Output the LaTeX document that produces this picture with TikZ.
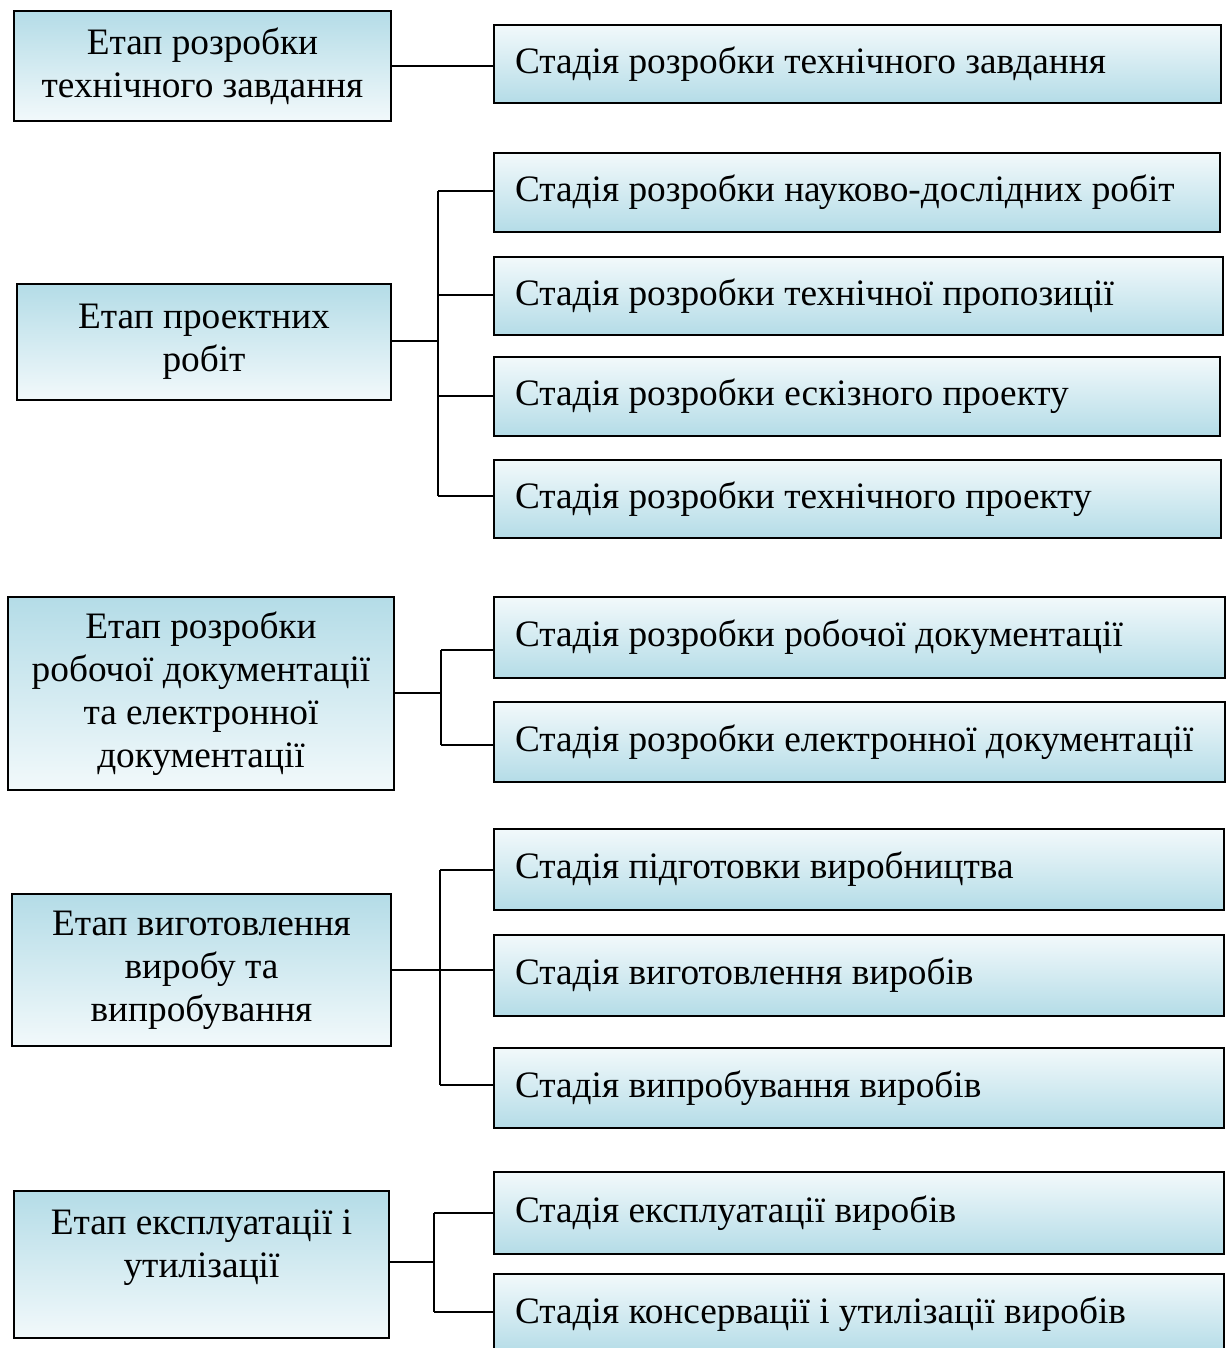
\documentclass[tikz,border=0pt]{standalone}
\usepackage{fontspec}
\setmainfont{Liberation Serif}
\definecolor{bdark}{RGB}{180,220,231}
\definecolor{blight}{RGB}{242,249,251}
\newcommand\rtext[1]{\raisebox{3pt}{\spaceskip=0pt\xspaceskip=0pt #1}}
\tikzset{
  lbox/.style={draw=black, line width=2pt, top color=bdark, bottom color=blight,
    align=center, inner sep=0pt, font=\fontsize{37.3}{43}\selectfont},
  rbox/.style={draw=black, line width=2pt, top color=blight, bottom color=bdark,
    anchor=west, align=left, inner xsep=21pt, inner ysep=0pt, minimum height=80pt,
    font=\fontsize{37.3}{43}\selectfont},
  conn/.style={draw=black, line width=1.5pt},
  ltext/.style={align=center, inner sep=0pt, font=\fontsize{37.3}{43}\selectfont}
}
\begin{document}
\begin{tikzpicture}[x=1pt,y=-1pt]
\clip (0,0) rectangle (1230,1348);
\fill[white] (0,0) rectangle (1230,1348);
% left boxes
\node[lbox, minimum width=377, minimum height=110] (L1) at (202.5,66) {Етап розробки\\технічного завдання};
\node[lbox, minimum width=374, minimum height=116] (L2) at (204,342) {Етап проектних\\робіт};
\node[lbox, minimum width=386, minimum height=193] (L3) at (201,693.5) {Етап розробки\\робочої документації\\та електронної\\документації};
\node[lbox, minimum width=379, minimum height=152] (L4) at (201.5,970) {Етап виготовлення\\виробу та\\випробування};
\node[lbox, minimum width=375, minimum height=147] (L5) at (201.5,1264.5) {};
\node[ltext] (L5t) at (201.5,1248) {Етап експлуатації і\\утилізації};
% right boxes
\node[rbox, minimum width=727, minimum height=78, text width=685] (R1) at (493,64) {\rtext{Стадія розробки технічного завдання}};
\node[rbox, minimum width=726, minimum height=79, text width=684] (R2) at (493,192.5) {\rtext{Стадія розробки науково-дослідних робіт}};
\node[rbox, minimum width=729, minimum height=78, text width=687] (R3) at (493,296) {\rtext{Стадія розробки технічної пропозиції}};
\node[rbox, minimum width=726, minimum height=79, text width=684] (R4) at (493,396.5) {\rtext{Стадія розробки ескізного проекту}};
\node[rbox, minimum width=727, minimum height=78, text width=685] (R5) at (493,499) {\rtext{Стадія розробки технічного проекту}};
\node[rbox, minimum width=731, minimum height=81, text width=689] (R6) at (493,637.5) {\rtext{Стадія розробки робочої документації}};
\node[rbox, minimum width=731, minimum height=80, text width=689] (R7) at (493,742) {\rtext{Стадія розробки електронної документації}};
\node[rbox, minimum width=730, minimum height=81, text width=688] (R8) at (493,869.5) {\rtext{Стадія підготовки виробництва}};
\node[rbox, minimum width=730, minimum height=81, text width=688] (R9) at (493,975.5) {\rtext{Стадія виготовлення виробів}};
\node[rbox, minimum width=730, minimum height=80, text width=688] (R10) at (493,1088) {\rtext{Стадія випробування виробів}};
\node[rbox, minimum width=730, minimum height=82, text width=688] (R11) at (493,1213) {\rtext{Стадія експлуатації виробів}};
\node[rbox, minimum width=730, minimum height=80, text width=688] (R12) at (493,1314) {\rtext{Стадія консервації і утилізації виробів}};
% connectors
\draw[conn] (L1.east) -- (L1.east -| R1.west);
% group 2
\coordinate (j2) at (438,341);
\coordinate (j2a) at (438,191);
\coordinate (j2b) at (438,295);
\coordinate (j2c) at (438,396);
\coordinate (j2d) at (438,496);
\draw[conn] (L2.east |- j2) -- (j2);
\draw[conn] (j2a) -- (j2d);
\draw[conn] (j2a) -- (j2a -| R2.west);
\draw[conn] (j2b) -- (j2b -| R3.west);
\draw[conn] (j2c) -- (j2c -| R4.west);
\draw[conn] (j2d) -- (j2d -| R5.west);
% group 3
\coordinate (j3) at (441,693);
\coordinate (j3a) at (441,650);
\coordinate (j3b) at (441,745);
\draw[conn] (L3.east |- j3) -- (j3);
\draw[conn] (j3a) -- (j3b);
\draw[conn] (j3a) -- (j3a -| R6.west);
\draw[conn] (j3b) -- (j3b -| R7.west);
% group 4
\coordinate (j4) at (440,970);
\coordinate (j4a) at (440,870);
\coordinate (j4b) at (440,1085);
\draw[conn] (L4.east |- j4) -- (j4 -| R9.west);
\draw[conn] (j4a) -- (j4b);
\draw[conn] (j4a) -- (j4a -| R8.west);
\draw[conn] (j4b) -- (j4b -| R10.west);
% group 5
\coordinate (j5) at (434,1262);
\coordinate (j5a) at (434,1213);
\coordinate (j5b) at (434,1312);
\draw[conn] (L5.east |- j5) -- (j5);
\draw[conn] (j5a) -- (j5b);
\draw[conn] (j5a) -- (j5a -| R11.west);
\draw[conn] (j5b) -- (j5b -| R12.west);
\end{tikzpicture}
\end{document}
